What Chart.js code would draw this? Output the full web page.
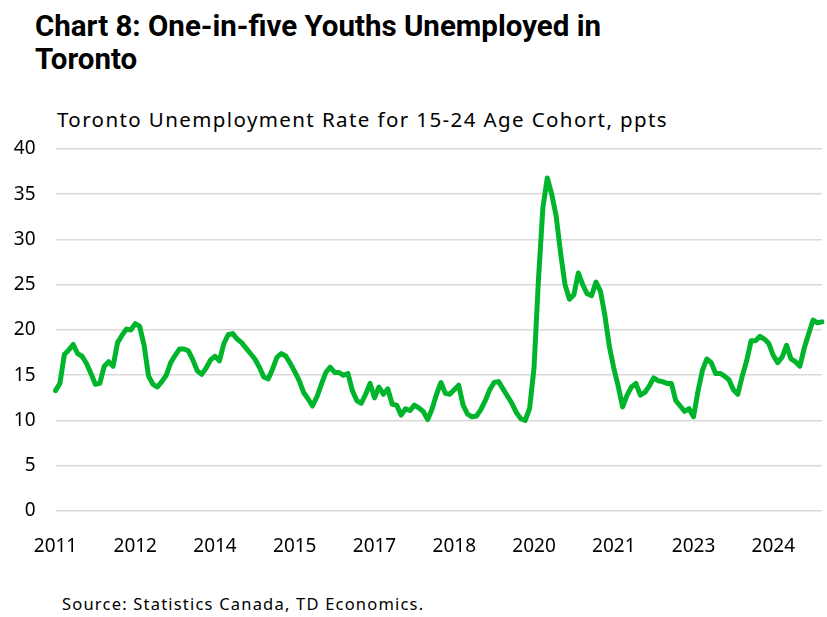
<!DOCTYPE html>
<html>
<head>
<meta charset="utf-8">
<script src="https://cdn.jsdelivr.net/npm/chart.js@4.4.1/dist/chart.umd.min.js"></script>
<style>
  body { margin: 0; background: #fff; width: 827px; height: 617px; overflow: hidden; position: relative; }
  .title { position: absolute; left: 35px; top: 10px; font-family: Roboto, sans-serif; font-weight: 700; font-size: 29.5px; line-height: 33px; color: #000; white-space: nowrap; }
  .subtitle { position: absolute; left: 57px; top: 105px; font-family: 'Noto Sans', sans-serif; font-size: 20.5px; letter-spacing: 1.4px; color: #000; white-space: nowrap; }
  .source { position: absolute; left: 62px; top: 592px; font-family: 'Noto Sans', sans-serif; font-size: 16.5px; letter-spacing: 1.2px; color: #000; white-space: nowrap; }
  #chart { position: absolute; left: 0; top: 135px; }
</style>
</head>
<body>
<div class="title">Chart 8: One-in-five Youths Unemployed in<br>Toronto</div>
<div class="subtitle">Toronto Unemployment Rate for 15-24 Age Cohort, ppts</div>
<canvas id="chart" width="827" height="426"></canvas>
<div class="source">Source: Statistics Canada, TD Economics.</div>
<script>
// monthly, Jan 2011 - Jun 2025
const firstYear = 2011;
const monthCount = 174;

// x-axis labels, one every 18 months
const tickYears = ['2011', '2012', '2014', '2015', '2017', '2018', '2020', '2021', '2023', '2024'];

// youth (15-24) unemployment rate, Toronto, ppts
const youthRate = [
  13.3, 14.1, 17.3, 17.8, 18.4, 17.4, 17.1, 16.3, 15.2, 14.0,
  14.1, 16.0, 16.5, 16.0, 18.6, 19.4, 20.1, 20.0, 20.7, 20.4,
  18.3, 14.9, 14.0, 13.7, 14.3, 15.0, 16.4, 17.2, 17.9, 17.9,
  17.7, 16.7, 15.5, 15.1, 15.8, 16.7, 17.1, 16.6, 18.5, 19.5,
  19.6, 19.0, 18.6, 18.0, 17.4, 16.8, 15.9, 14.8, 14.6, 15.7,
  17.0, 17.4, 17.1, 16.3, 15.4, 14.4, 13.1, 12.4, 11.6, 12.6,
  14.0, 15.3, 15.9, 15.3, 15.3, 15.0, 15.2, 13.3, 12.2, 11.9,
  12.9, 14.1, 12.5, 13.7, 12.9, 13.5, 11.8, 11.7, 10.6, 11.3,
  11.1, 11.7, 11.4, 11.0, 10.1, 11.3, 12.9, 14.2, 13.0, 12.9,
  13.4, 13.9, 11.7, 10.7, 10.4, 10.5, 11.2, 12.2, 13.4, 14.2,
  14.3, 13.5, 12.7, 11.9, 10.9, 10.2, 10.0, 11.3, 15.8, 25.5,
  33.5, 36.8, 35.0, 32.6, 28.5, 25.0, 23.4, 23.9, 26.3, 25.0,
  24.0, 23.8, 25.3, 24.3, 21.6, 18.2, 15.8, 13.8, 11.5, 12.8,
  13.7, 14.1, 12.8, 13.1, 13.8, 14.7, 14.4, 14.3, 14.1, 14.1,
  12.2, 11.6, 11.0, 11.3, 10.4, 13.2, 15.5, 16.8, 16.4, 15.2,
  15.2, 14.9, 14.5, 13.4, 12.9, 14.9, 16.6, 18.8, 18.8, 19.3,
  19.0, 18.5, 17.2, 16.4, 17.0, 18.3, 16.8, 16.5, 16.0, 18.0,
  19.6, 21.1, 20.8, 20.9
];

const months = [];
for (let i = 0; i < monthCount; i++) {
  const y = firstYear + Math.floor(i / 12);
  const m = (i % 12) + 1;
  months.push(y + '-' + String(m).padStart(2, '0'));
}

const tickFont = { family: "'Noto Sans', sans-serif", size: 19 };

new Chart(document.getElementById('chart').getContext('2d'), {
  type: 'line',
  data: {
    labels: months,
    datasets: [{
      data: youthRate,
      borderColor: '#00b52c',
      borderWidth: 5,
      pointRadius: 0,
      tension: 0,
      borderJoinStyle: 'round',
      borderCapStyle: 'round',
      fill: false
    }]
  },
  options: {
    responsive: false,
    animation: false,
    devicePixelRatio: 1,
    layout: { padding: { top: 14, right: 5, left: 0, bottom: 0 } },
    plugins: { legend: { display: false }, tooltip: { enabled: false } },
    scales: {
      x: {
        type: 'category',
        offset: false,
        grid: { display: false, drawTicks: false },
        border: { display: false },
        ticks: {
          autoSkip: false,
          maxRotation: 0,
          minRotation: 0,
          padding: 24,
          color: '#000',
          font: tickFont,
          callback: (val, i) => (i % 18 === 0 ? tickYears[i / 18] : '')
        },
        afterFit: scale => {
          scale.height = 50;
          scale.paddingLeft = 0;
          scale.paddingRight = 0;
        }
      },
      y: {
        min: 0,
        max: 40,
        grid: { color: '#d9d9d9', lineWidth: 1.6, drawTicks: false },
        border: { display: false },
        ticks: { stepSize: 5, padding: 20, color: '#000', font: tickFont },
        afterFit: scale => {
          scale.width = 55.5;
          scale.paddingTop = 0;
          scale.paddingBottom = 0;
        }
      }
    }
  }
});
</script>
</body>
</html>
